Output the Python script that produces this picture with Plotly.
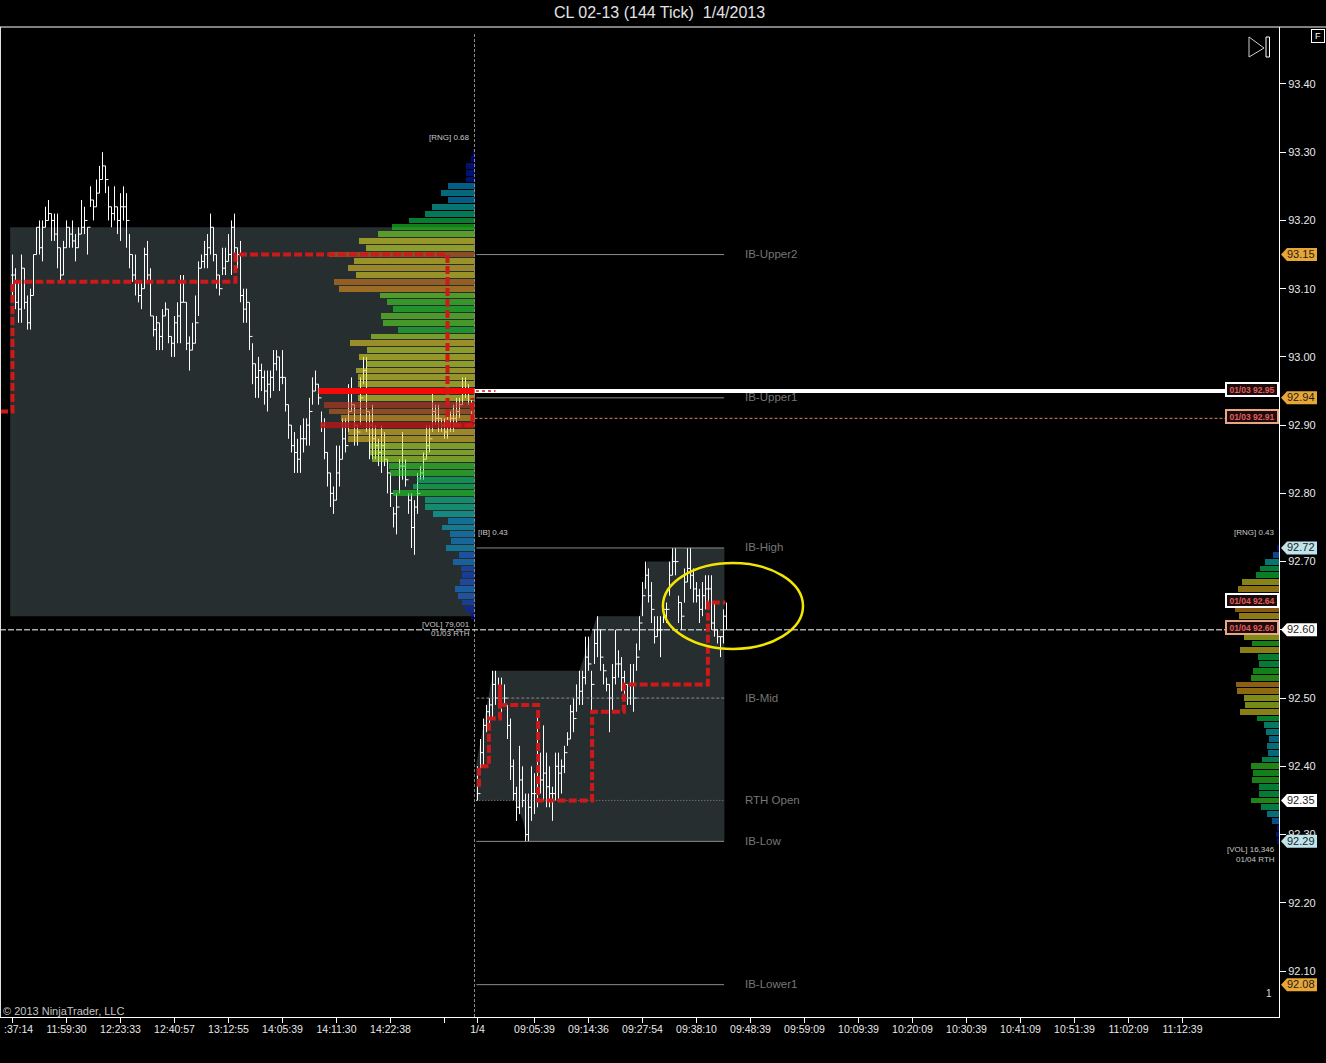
import plotly.graph_objects as go

# ---------- data ----------
TITLE = "CL 02-13 (144 Tick)  1/4/2013"
PRICE_TICKS = [93.40, 93.30, 93.20, 93.10, 93.00, 92.90, 92.80, 92.70, 92.60, 92.50, 92.40, 92.30, 92.20, 92.10]

time_ticks = [4, 22, 40, 58, 76, 94, 112, 130, 148, 159, 178, 196, 214, 232, 250, 268, 286, 304, 322, 340, 358, 376, 394]
time_labels = ["", "11:59:30", "12:23:33", "12:40:57", "13:12:55", "14:05:39", "14:11:30", "14:22:38", "", "1/4",
               "09:05:39", "09:14:36", "09:27:54", "09:38:10", "09:48:39", "09:59:09", "10:09:39", "10:20:09",
               "10:30:39", "10:41:09", "10:51:39", "11:02:09", "11:12:39"]

# previous session: bars numbered from 4
high_a = [93.15,93.13,93.11,93.15,93.13,93.09,93.10,93.15,93.19,93.20,93.20,93.22,93.23,93.21,93.21,93.21,93.16,93.17,93.20,93.19,
          93.20,93.18,93.19,93.23,93.22,93.19,93.25,93.23,93.26,93.28,93.30,93.28,93.25,93.22,93.25,93.22,93.24,93.25,93.24,93.18,
          93.15,93.15,93.11,93.11,93.16,93.17,93.13,93.06,93.06,93.05,93.07,93.08,93.07,93.03,93.06,93.08,93.12,93.12,93.08,93.03,
          93.05,93.09,93.14,93.15,93.17,93.18,93.21,93.19,93.15,93.12,93.16,93.16,93.18,93.20,93.21,93.16,93.17,93.10,93.10,93.08,
          93.02,92.99,93.00,92.99,92.98,92.98,92.98,93.01,93.01,93.00,93.01,92.97,92.93,92.90,92.89,92.88,92.90,92.91,92.91,92.94,
          92.97,92.98,92.96,92.92,92.91,92.86,92.83,92.81,92.87,92.87,92.91,92.91,92.96,92.97,92.93,92.90,92.97,93.00,93.00,92.92,
          92.93,92.90,92.88,92.90,92.89,92.85,92.83,92.78,92.80,92.85,92.89,92.85,92.80,92.80,92.79,92.83,92.84,92.86,92.90,92.90,
          92.95,92.93,92.93,92.91,92.91,92.92,92.92,92.93,92.94,92.94,92.97,92.97,92.96,92.94]
low_a = [93.09,93.07,93.05,93.05,93.07,93.04,93.04,93.09,93.15,93.15,93.14,93.19,93.20,93.17,93.17,93.13,93.11,93.12,93.16,93.16,
         93.16,93.14,93.16,93.18,93.18,93.15,93.22,93.20,93.22,93.24,93.26,93.24,93.20,93.19,93.20,93.18,93.17,93.20,93.16,93.13,
         93.11,93.09,93.08,93.07,93.10,93.11,93.06,93.03,93.01,93.01,93.01,93.06,93.02,93.00,93.00,93.02,93.02,93.08,93.01,92.98,
         93.01,93.02,93.06,93.13,93.13,93.13,93.15,93.14,93.10,93.09,93.12,93.12,93.14,93.12,93.15,93.13,93.08,93.05,93.05,93.01,
         92.96,92.94,92.94,92.95,92.93,92.92,92.94,92.95,92.98,92.95,92.96,92.92,92.88,92.86,92.83,92.83,92.83,92.86,92.87,92.87,
         92.93,92.95,92.93,92.89,92.85,92.81,92.78,92.77,92.79,92.81,92.85,92.86,92.89,92.92,92.87,92.87,92.90,92.96,92.89,92.85,
         92.85,92.85,92.84,92.83,92.84,92.80,92.78,92.75,92.74,92.80,92.82,92.81,92.77,92.72,92.71,92.77,92.82,92.82,92.85,92.86,
         92.89,92.90,92.89,92.89,92.88,92.88,92.89,92.89,92.90,92.91,92.93,92.94,92.93,92.91]
close_a = [93.12,93.08,93.07,93.13,93.08,93.05,93.09,93.15,93.19,93.16,93.19,93.20,93.21,93.20,93.18,93.16,93.12,93.16,93.19,93.18,
           93.17,93.16,93.18,93.19,93.20,93.19,93.23,93.22,93.24,93.26,93.28,93.26,93.22,93.21,93.22,93.20,93.22,93.22,93.20,93.15,
           93.12,93.11,93.09,93.10,93.15,93.12,93.06,93.04,93.05,93.03,93.06,93.07,93.03,93.02,93.05,93.06,93.08,93.08,93.02,93.01,
           93.02,93.05,93.13,93.14,93.15,93.16,93.19,93.15,93.12,93.10,93.13,93.14,93.15,93.19,93.16,93.15,93.09,93.07,93.08,93.03,
           92.99,92.97,92.98,92.97,92.95,92.96,92.97,92.99,93.00,92.97,92.97,92.93,92.90,92.87,92.86,92.85,92.88,92.88,92.90,92.92,
           92.95,92.96,92.94,92.90,92.86,92.83,92.80,92.79,92.83,92.85,92.88,92.87,92.92,92.93,92.90,92.89,92.94,92.98,92.92,92.90,
           92.88,92.87,92.86,92.87,92.85,92.83,92.80,92.77,92.78,92.84,92.84,92.82,92.79,92.75,92.78,92.80,92.83,92.85,92.87,92.88,
           92.92,92.91,92.91,92.90,92.89,92.90,92.91,92.91,92.92,92.93,92.95,92.95,92.95,92.93]

# current session: bars numbered from 159
open_b0 = 92.35
high_b = [92.40,92.44,92.47,92.49,92.50,92.54,92.54,92.53,92.53,92.52,92.49,92.47,92.41,92.37,92.43,92.40,92.36,92.36,92.40,92.39,
          92.48,92.42,92.46,92.42,92.40,92.37,92.42,92.42,92.41,92.43,92.45,92.49,92.50,92.52,92.54,92.54,92.59,92.59,92.54,92.60,
          92.62,92.60,92.55,92.53,92.52,92.55,92.60,92.57,92.56,92.54,92.52,92.55,92.55,92.58,92.62,92.67,92.70,92.69,92.67,92.62,
          92.62,92.62,92.64,92.64,92.70,92.72,92.72,92.65,92.64,92.69,92.72,92.72,92.69,92.67,92.66,92.67,92.68,92.68,92.68,92.64,
          92.60,92.59,92.63,92.64]
low_b = [92.35,92.39,92.40,92.45,92.46,92.47,92.49,92.49,92.47,92.49,92.44,92.38,92.35,92.32,92.33,92.34,92.29,92.29,92.32,92.33,
         92.34,92.36,92.35,92.34,92.34,92.32,92.35,92.35,92.36,92.39,92.43,92.44,92.45,92.48,92.49,92.49,92.52,92.54,92.48,92.55,
         92.56,92.54,92.52,92.51,92.45,92.48,92.52,92.53,92.51,92.50,92.49,92.49,92.48,92.54,92.57,92.62,92.66,92.64,92.61,92.58,
         92.59,92.56,92.61,92.61,92.65,92.68,92.68,92.61,92.60,92.64,92.67,92.66,92.64,92.64,92.61,92.62,92.63,92.63,92.60,92.59,
         92.58,92.56,92.58,92.60]
close_b = [92.36,92.42,92.46,92.48,92.49,92.52,92.50,92.51,92.49,92.50,92.46,92.40,92.36,92.34,92.38,92.35,92.30,92.34,92.36,92.36,
           92.40,92.38,92.39,92.37,92.36,92.36,92.40,92.39,92.40,92.42,92.44,92.48,92.47,92.50,92.51,92.53,92.56,92.55,92.52,92.58,
           92.60,92.56,92.54,92.52,92.50,92.53,92.55,92.55,92.53,92.52,92.50,92.52,92.50,92.56,92.61,92.65,92.68,92.65,92.63,92.59,
           92.60,92.60,92.63,92.63,92.68,92.70,92.70,92.64,92.62,92.67,92.69,92.68,92.66,92.65,92.63,92.65,92.66,92.66,92.61,92.60,
           92.59,92.59,92.62,92.60]

# volume profiles (contracts per 0.01 level)
profile_a_top = 93.30
profile_a = [30,60,135,135,135,405,510,405,645,750,990,1245,1455,1740,1635,2190,1815,1905,1785,2115,
             2040,1425,1320,1230,1410,1380,1155,1560,1875,1620,1740,1635,1785,1755,1755,1755,1755,2265,2190,2010,
             2310,1905,1905,1575,1575,1545,1290,1275,870,930,1230,750,750,630,405,495,375,360,435,240,
             330,210,195,225,300,255,195,150,60]
profile_b_top = 92.72
profile_b = [30,90,210,285,345,555,615,615,600,660,600,585,600,525,405,585,315,300,390,420,
             645,630,525,510,585,330,225,195,150,180,165,255,420,390,405,300,300,420,270,180,
             105,30,45,30]

# session range areas
range_a_x = [3.2, 158]
range_a_hi = [93.19, 93.19]
range_a_lo = [92.62, 92.62]
range_b_hi_x = [158.5, 158.5, 164.2, 193, 198.8, 213, 215.5, 223.5, 224, 241.3]
range_b_hi = [92.35, 92.40, 92.54, 92.54, 92.62, 92.62, 92.70, 92.70, 92.72, 92.72]
range_b_lo_x = [241.3, 175.5, 174.2, 171.5, 158.5]
range_b_lo = [92.29, 92.29, 92.32, 92.35, 92.35]

# stepped dashed levels
step_a_x = [-0.17, 4, 4, 78.3, 78.3, 149, 149, 157.3, 157.3]
step_a_y = [92.92, 92.92, 93.11, 93.11, 93.15, 93.15, 92.90, 92.90, 92.94]
step_b_x = [159.5, 159.5, 162.8, 162.8, 166.5, 166.5, 166.5, 179.2, 179.2, 197.2, 197.2, 207.8, 207.8, 235.8, 235.8, 241.6]
step_b_y = [92.37, 92.40, 92.40, 92.47, 92.47, 92.52, 92.49, 92.49, 92.35, 92.35, 92.48, 92.48, 92.52, 92.52, 92.64, 92.64]

ib_names = ["IB-Upper2", "IB-Upper1", "IB-High", "IB-Mid", "RTH Open", "IB-Low", "IB-Lower1"]
ib_prices = [93.15, 92.94, 92.72, 92.50, 92.35, 92.29, 92.08]
ib_dashes = ["solid", "solid", "solid", "3px,2px", "1px,2px", "solid", "solid"]

tag_prices = [93.15, 92.94, 92.72, 92.60, 92.35, 92.29, 92.08]
tag_texts = ["93.15", "92.94", "92.72", "92.60", "92.35", "92.29", "92.08"]
tag_colors = ["#e8a636", "#e8a636", "#bfe4ec", "#ffffff", "#ffffff", "#bfe4ec", "#e8a636"]

box_texts = ["01/03 92.95", "01/03 92.91", "01/04 92.64", "01/04 92.60"]
box_prices = [92.95, 92.91, 92.64, 92.60]
box_borders = ["#ffffff", "#eaa583", "#ffffff", "#eaa583"]

# ---------- layout helpers ----------
W, H = 1326, 1063
L, R, T, B = 0, 1279, 27, 1017
BG_GREY = "#272e30"
X_RANGE = [-0.17, 426.17]
Y_RANGE = [92.0326, 93.4835]
PROFILE_ALPHA = 0.6
PX_PER_BAR = 3.0
VOL_PER_PX = 15.0

def px(x):
    return x / (R - L)

def py(y):
    return (B - y) / (B - T)

def levels(top, n):
    return [round(top - 0.01 * i, 2) for i in range(n)]

def unblend(rgb, bg=(25, 30, 32)):
    a = PROFILE_ALPHA
    c = [min(255, max(0, round((v - (1 - a) * b) / a))) for v, b in zip(rgb, bg)]
    return f"rgb({c[0]},{c[1]},{c[2]})"

seen_stops = [(0.0, (10, 10, 140)), (0.06, (12, 30, 125)), (0.105, (25, 75, 155)), (0.175, (15, 105, 145)),
              (0.28, (18, 130, 125)), (0.39, (15, 135, 70)), (0.54, (30, 140, 35)), (0.63, (85, 150, 35)),
              (0.71, (140, 150, 35)), (0.81, (150, 135, 35)), (0.88, (150, 105, 30)), (0.95, (135, 70, 30)),
              (1.0, (125, 30, 30))]
scale = [[s, unblend(c)] for s, c in seen_stops]

fig = go.Figure()

# session ranges: bottom layer
fig.add_trace(go.Scatter(x=[range_a_x[0], range_a_x[1], range_a_x[1], range_a_x[0], range_a_x[0]],
                         y=[range_a_hi[0], range_a_hi[1], range_a_lo[1], range_a_lo[0], range_a_hi[0]],
                         mode="lines", line=dict(width=0), fill="toself", fillcolor=BG_GREY))
fig.add_trace(go.Scatter(x=range_b_hi_x + range_b_lo_x, y=range_b_hi + range_b_lo,
                         mode="lines", line=dict(width=0), fill="toself", fillcolor=BG_GREY))

# price bars: overlay 2
idx_a = list(range(4, 4 + len(close_a)))
idx_b = list(range(159, 159 + len(close_b)))
WHITE_LINE = dict(line=dict(color="#ffffff", width=1))
fig.add_trace(go.Ohlc(x=idx_a, open=[close_a[0]] + close_a[:-1], high=high_a, low=low_a, close=close_a,
                      increasing=WHITE_LINE, decreasing=WHITE_LINE, tickwidth=0.5, xaxis="x2", yaxis="y2"))
fig.add_trace(go.Ohlc(x=idx_b, open=[open_b0] + close_b[:-1], high=high_b, low=low_b, close=close_b,
                      increasing=WHITE_LINE, decreasing=WHITE_LINE, tickwidth=0.5, xaxis="x2", yaxis="y2"))

# profiles: overlay 3, translucent so price bars show through
for vols, top, base, cmax in ((profile_a, profile_a_top, 158.0, 2310), (profile_b, profile_b_top, X_RANGE[1], 740)):
    fig.add_trace(go.Bar(y=levels(top, len(vols)), x=[-v / VOL_PER_PX / PX_PER_BAR for v in vols], base=base,
                         orientation="h", width=0.0085, opacity=PROFILE_ALPHA,
                         marker=dict(color=vols, cmin=0, cmax=cmax, colorscale=scale, line=dict(width=0)),
                         xaxis="x3", yaxis="y3"))

def level_line(x0, x1, y, color, width, dash="solid"):
    fig.add_trace(go.Scatter(x=[x0, x1], y=[y, y], mode="lines", xaxis="x3", yaxis="y3",
                             line=dict(color=color, width=width, dash=dash)))

# date separator
fig.add_trace(go.Scatter(x=[158, 158], y=[Y_RANGE[0], 93.475], mode="lines", xaxis="x3", yaxis="y3",
                         line=dict(color="#8a8a8a", width=1, dash="3px,2px")))

# IB levels
for p, d in zip(ib_prices, ib_dashes):
    level_line(158.6, 241.2, p, "#8c8c8c", 1, d)

# carried levels
level_line(158, 408.2, 92.95, "#ffffff", 4)
level_line(158.5, 165, 92.95, "#d85050", 2, "3px,3px")
level_line(158, 408.2, 92.91, "#d88a68", 1, "3px,2px")
level_line(X_RANGE[0], 408.2, 92.60, "#ffffff", 1, "6px,2px")

# point of control bars
level_line(106, 158, 92.95, "#f50a0a", 6)
level_line(106.5, 158, 92.90, "rgba(175,20,20,0.6)", 6)

# stepped dashed levels
for xs, ys in ((step_a_x, step_a_y), (step_b_x, step_b_y)):
    fig.add_trace(go.Scatter(x=xs, y=ys, mode="lines", xaxis="x3", yaxis="y3",
                             line=dict(color="#cc1a1a", width=4, dash="8px,3px")))

# ---------- shapes ----------
shapes = [
    dict(type="line", xref="paper", yref="paper", x0=0, x1=px(W), y0=py(T), y1=py(T), line=dict(color="#ffffff", width=1)),
    dict(type="line", xref="paper", yref="paper", x0=px(0.5), x1=px(0.5), y0=py(T), y1=py(B), line=dict(color="#e0e0e0", width=1)),
    dict(type="circle", xref="x", yref="y", x0=220.8, x1=267.5, y0=92.572, y1=92.698, line=dict(color="#f2e600", width=2.5)),
    dict(type="path", xref="paper", yref="paper",
         path=f"M {px(1249)} {py(37)} L {px(1264)} {py(48)} L {px(1249)} {py(57)} Z", line=dict(color="#cfcfcf", width=1)),
    dict(type="rect", xref="paper", yref="paper", x0=px(1266), x1=px(1269.5), y0=py(37), y1=py(57), line=dict(color="#ffffff", width=1)),
]
for p, c in zip(tag_prices, tag_colors):
    hh = 6.5 / 682.3
    shapes.append(dict(type="path", xref="paper", yref="y", fillcolor=c, line=dict(width=0),
                       path=f"M {px(1281)} {p} L {px(1287)} {p + hh} L {px(1317)} {p + hh} L {px(1317)} {p - hh} L {px(1287)} {p - hh} Z"))

# ---------- texts ----------
FONT = "Liberation Sans, Arial, sans-serif"
annotations = []

def text(s, x, y, size=8, color="#c8c8c8", anchor="left", **kw):
    annotations.append(dict(text=s, x=px(x), y=py(y), xref="paper", yref="paper", xanchor=anchor, yanchor="middle",
                            showarrow=False, font=dict(family=FONT, size=size, color=color), **kw))

text(TITLE, 659.5, 13, size=16, color="#e4e4e4", anchor="center")
text("[RNG] 0.68", 472, 137, anchor="right")
text("[VOL] 79,001", 472, 624, anchor="right")
text("01/03 RTH", 472, 633.5, anchor="right")
text("[IB] 0.43", 476, 532)
text("[RNG] 0.43", 1277, 532, anchor="right")
text("[VOL] 16,346", 1277, 849, anchor="right")
text("01/04 RTH", 1277, 859, anchor="right")
text("1", 1269, 993, size=10, color="#dddddd", anchor="center")
text("© 2013 NinjaTrader, LLC", 1, 1011, size=11, color="#c4c4c4")
text(":37:14", 18, 1029, size=10.5, color="#e8e8e8", anchor="center")
text("F", 1318, 35.5, size=9, color="#ffffff", anchor="center", bordercolor="#ffffff", borderwidth=1, borderpad=1, width=10, height=10)

for name, p in zip(ib_names, ib_prices):
    y = T + (Y_RANGE[1] - p) * 682.3
    text(name, 743, y - 0.5, size=11.5, color="#767676")

for s, p, c in zip(tag_texts, tag_prices, tag_colors):
    y = T + (Y_RANGE[1] - p) * 682.3
    text(s, 1301, y - 0.5, size=11, color="#1c1c1c", anchor="center")

for s, p, c in zip(box_texts, box_prices, box_borders):
    y = T + (Y_RANGE[1] - p) * 682.3 - 2
    text(f"<b>{s}</b>", 1252, y, size=8.5, color="#e65c5c", anchor="center", bgcolor="#1a0c0c", bordercolor=c, borderwidth=2,
         borderpad=0, width=50, height=11)

# ---------- axes ----------
hidden = dict(visible=False, fixedrange=True)
fig.update_layout(
    width=W, height=H, margin=dict(l=L, r=W - R, t=T, b=H - B, pad=0),
    paper_bgcolor="#000000", plot_bgcolor="#000000", showlegend=False, hovermode=False, barmode="overlay",
    bargap=0, dragmode=False, shapes=shapes, annotations=annotations,
    font=dict(family=FONT, color="#e8e8e8", size=11),
    xaxis=dict(range=X_RANGE, tickmode="array", tickvals=time_ticks, ticktext=time_labels, ticks="outside", ticklen=5,
               tickcolor="#ffffff", tickwidth=1, showgrid=False, zeroline=False, showline=True, linecolor="#ffffff", linewidth=1,
               tickfont=dict(size=10.5, family=FONT, color="#e8e8e8"), fixedrange=True, rangeslider=dict(visible=False), tickangle=0,
               ticklabelstandoff=-3),
    yaxis=dict(range=Y_RANGE, side="right", tickmode="array", tickvals=PRICE_TICKS, ticktext=[f"{v:.2f}" for v in PRICE_TICKS],
               ticks="outside", ticklen=6, tickcolor="#ffffff", tickwidth=1, showgrid=False, zeroline=False, showline=True,
               linecolor="#ffffff", linewidth=1, mirror=True, tickfont=dict(size=11, family=FONT, color="#e8e8e8"), fixedrange=True),
    xaxis2=dict(range=X_RANGE, overlaying="x", rangeslider=dict(visible=False), **hidden),
    yaxis2=dict(range=Y_RANGE, overlaying="y", **hidden),
    xaxis3=dict(range=X_RANGE, overlaying="x", **hidden),
    yaxis3=dict(range=Y_RANGE, overlaying="y", **hidden),
)

fig.write_html("out.html", config={"displayModeBar": False},
               post_script="document.body.style.margin='0';document.body.style.background='#000';")
